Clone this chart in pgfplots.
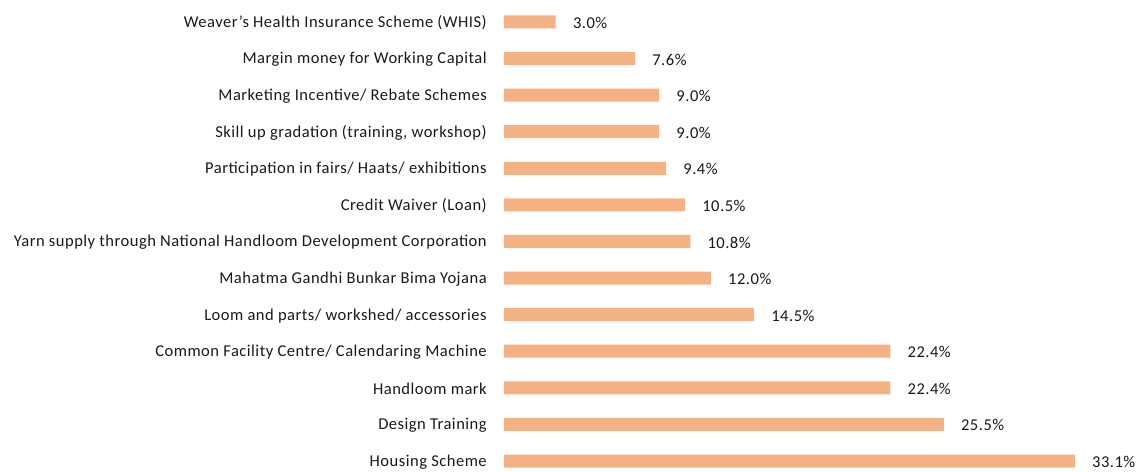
\documentclass[border=0pt]{standalone}
\usepackage{pgfplots}
\pgfplotsset{compat=1.18}
\usepackage{fontspec}
\setmainfont{Carlito}[LetterSpace=3]
\definecolor{barc}{HTML}{F4B183}
\begin{document}
\begin{tikzpicture}
\begin{axis}[
  name=ax,
  scale only axis,
  width=474.75pt, height=353.25pt,
  xmin=0, xmax=36.7,
  ymin=-0.273, ymax=12.6,
  xbar, bar width=9.75pt,
  axis line style={draw=none},
  hide x axis,
  ytick={0,...,12},
  yticklabels={Housing Scheme,Design Training,Handloom mark,Common Facility Centre/ Calendaring Machine,Loom and parts/ workshed/ accessories,Mahatma Gandhi Bunkar Bima Yojana,Yarn supply through National Handloom Development Corporation,Credit Waiver (Loan),Participation in fairs/ Haats/ exhibitions,Skill up gradation (training{,} workshop),Marketing Incentive/ Rebate Schemes,Margin money for Working Capital,Weaver’s Health Insurance Scheme (WHIS)},
  major tick length=0pt,
  yticklabel style={font=\fontsize{12.4}{14}\selectfont, text=black!90, inner sep=0pt, xshift=-12.75pt, yshift=-0.75pt},
  nodes near coords={\pgfmathprintnumber[fixed,fixed zerofill,precision=1]{\pgfplotspointmeta}\%},
  nodes near coords style={font=\fontsize{12.4}{14}\selectfont, text=black!90, anchor=west, inner sep=0pt, xshift=12.75pt, yshift=-0.75pt},
  /pgf/number format/assume math mode=true,
  clip=false,
]
\addplot[fill=barc, draw=none] coordinates {
(33.1,0) (25.5,1) (22.4,2) (22.4,3) (14.5,4) (12.0,5) (10.8,6) (10.5,7) (9.4,8) (9.0,9) (9.0,10) (7.6,11) (3.0,12)
};
\end{axis}
\pgfresetboundingbox
\path ([xshift=-378pt]ax.south west) rectangle (ax.north east);
\end{tikzpicture}
\end{document}
